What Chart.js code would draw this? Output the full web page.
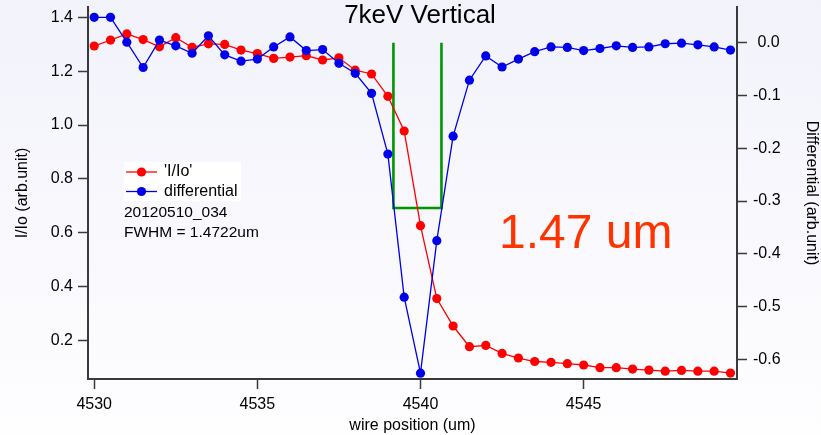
<!DOCTYPE html>
<html>
<head>
<meta charset="utf-8">
<title>7keV Vertical</title>
<script src="https://cdn.jsdelivr.net/npm/chart.js@4.4.1/dist/chart.umd.min.js"></script>
<style>
  html, body { margin: 0; padding: 0; background: #fff; }
  #myChart { display: block; }
</style>
</head>
<body>
<canvas id="myChart" width="821" height="435"></canvas>
<script>
// wire position (um), one sample every 0.5 um
const positions = [
  4530, 4530.5, 4531, 4531.5, 4532, 4532.5, 4533, 4533.5, 4534, 4534.5,
  4535, 4535.5, 4536, 4536.5, 4537, 4537.5, 4538, 4538.5, 4539, 4539.5,
  4540, 4540.5, 4541, 4541.5, 4542, 4542.5, 4543, 4543.5, 4544, 4544.5,
  4545, 4545.5, 4546, 4546.5, 4547, 4547.5, 4548, 4548.5, 4549, 4549.5
];
// normalised intensity I/Io
const ioValues = [
  1.294, 1.316, 1.339, 1.318, 1.291, 1.325, 1.289, 1.302, 1.300, 1.279,
  1.266, 1.248, 1.253, 1.258, 1.242, 1.250, 1.204, 1.190, 1.107, 0.978,
  0.626, 0.355, 0.253, 0.176, 0.181, 0.151, 0.134, 0.121, 0.118, 0.113,
  0.108, 0.098, 0.098, 0.093, 0.089, 0.085, 0.088, 0.085, 0.085, 0.078
];
// derivative of I/Io
const diffValues = [
  0.048, 0.048, 0.001, -0.047, 0.005, -0.006, -0.020, 0.013, -0.023, -0.035,
  -0.031, -0.008, 0.011, -0.015, -0.013, -0.039, -0.058, -0.096, -0.211, -0.482,
  -0.626, -0.375, -0.177, -0.071, -0.025, -0.046, -0.031, -0.017, -0.008, -0.009,
  -0.015, -0.011, -0.006, -0.009, -0.008, -0.002, -0.001, -0.004, -0.008, -0.014
];
// half maximum marker (FWHM = 1.4722 um)
const fwhmX = [4539.17, 4539.17, 4540.6422, 4540.6422];
const fwhmY = [0, -0.313, -0.313, 0];

const xTicks = [4530, 4535, 4540, 4545];
const fontFamily = '"Liberation Sans", Arial, sans-serif';

function toPoints(xs, ys) {
  return xs.map(function (x, i) { return { x: x, y: ys[i] }; });
}

const data = {
  datasets: [{
    label: 'differential',
    yAxisID: 'y1',
    data: toPoints(positions, diffValues),
    borderColor: 'rgb(0, 0, 235)',
    backgroundColor: 'rgb(0, 0, 235)',
    borderWidth: 1.3,
    pointRadius: 4.6,
    pointBorderWidth: 0,
    order: 0
  },
  {
    label: "'I/Io'",
    yAxisID: 'y',
    data: toPoints(positions, ioValues),
    borderColor: 'rgb(255, 0, 0)',
    backgroundColor: 'rgb(255, 0, 0)',
    borderWidth: 1.3,
    pointRadius: 4.6,
    pointBorderWidth: 0,
    order: 1
  },
  {
    label: 'fwhm',
    yAxisID: 'y1',
    data: toPoints(fwhmX, fwhmY),
    borderColor: 'rgb(0, 150, 0)',
    borderWidth: 2.6,
    pointRadius: 0,
    order: 2
  }]
};

// background wash behind everything
const backdrop = {
  id: 'backdrop',
  beforeDraw: function (chart) {
    const ctx = chart.ctx;
    const g = ctx.createLinearGradient(0, 0, 0, chart.height);
    g.addColorStop(0, 'rgb(242, 242, 251)');
    g.addColorStop(1, 'rgb(254, 254, 255)');
    ctx.save();
    ctx.fillStyle = g;
    ctx.fillRect(0, 0, chart.width, chart.height);
    ctx.restore();
  }
};

// title, legend box and notes drawn over the plot
const notes = {
  id: 'notes',
  afterDraw: function (chart) {
    const ctx = chart.ctx;
    ctx.save();
    ctx.fillStyle = '#000';
    ctx.font = '26px ' + fontFamily;
    ctx.textAlign = 'center';
    ctx.textBaseline = 'alphabetic';
    ctx.fillText('7keV Vertical', 420, 23);

    // legend
    ctx.fillStyle = '#fff';
    ctx.fillRect(124, 162, 117, 39);
    const entries = [data.datasets[1], data.datasets[0]];
    entries.forEach(function (ds, i) {
      const y = 172 + i * 19.5;
      ctx.strokeStyle = ds.borderColor;
      ctx.lineWidth = 1.3;
      ctx.beginPath();
      ctx.moveTo(126, y);
      ctx.lineTo(157, y);
      ctx.stroke();
      ctx.fillStyle = ds.backgroundColor;
      ctx.beginPath();
      ctx.arc(141.5, y, 4.6, 0, Math.PI * 2);
      ctx.fill();
      ctx.fillStyle = '#000';
      ctx.font = '16px ' + fontFamily;
      ctx.textAlign = 'left';
      ctx.textBaseline = 'middle';
      ctx.fillText(ds.label, 164, y);
    });

    ctx.font = '15.5px ' + fontFamily;
    ctx.fillText('20120510_034', 124, 213);
    ctx.fillText('FWHM = 1.4722um', 124, 233);

    ctx.fillStyle = 'rgb(255, 51, 0)';
    ctx.font = '48px ' + fontFamily;
    ctx.textBaseline = 'alphabetic';
    ctx.fillText('1.47 um', 499, 248);
    ctx.restore();
  }
};

// fixed axis box sizes, no extra room for overhanging labels
function fixBox(size) {
  return function (s) {
    if (s.isHorizontal()) s.height = size; else s.width = size;
    s.paddingTop = 0;
    s.paddingBottom = 0;
    s.paddingLeft = 0;
    s.paddingRight = 0;
  };
}

const axisColor = '#3a3a3a';
const tickFont = { family: fontFamily, size: 16 };
const titleFont = { family: fontFamily, size: 16 };

const config = {
  type: 'line',
  data: data,
  plugins: [backdrop, notes],
  options: {
    responsive: false,
    animation: false,
    devicePixelRatio: 1,
    layout: { padding: { top: 7, left: 0, right: 0, bottom: 0 } },
    elements: { line: { tension: 0 } },
    scales: {
      x: {
        type: 'linear',
        min: 4529.81,
        max: 4549.70,
        afterFit: fixBox(56),
        afterBuildTicks: function (s) {
          s.ticks = xTicks.map(function (v) { return { value: v }; });
        },
        ticks: {
          font: tickFont,
          color: '#000',
          padding: 6,
          maxRotation: 0,
          callback: function (v) { return String(v); }
        },
        grid: { drawOnChartArea: false, tickLength: 10, tickColor: axisColor, tickWidth: 1.5 },
        border: { color: axisColor, width: 2 },
        title: { display: true, text: 'wire position (um)', font: titleFont, color: '#000', padding: { top: 0, bottom: 0 } }
      },
      y: {
        type: 'linear',
        position: 'left',
        min: 0.056,
        max: 1.439,
        afterFit: fixBox(88),
        ticks: {
          stepSize: 0.2,
          includeBounds: false,
          font: tickFont,
          color: '#000',
          padding: 5,
          callback: function (v) { return v.toFixed(1); }
        },
        grid: { drawOnChartArea: false, tickLength: 10, tickColor: axisColor, tickWidth: 1.5 },
        border: { color: axisColor, width: 2 },
        title: { display: true, text: 'I/Io (arb.unit)', font: titleFont, color: '#000', padding: { top: 13, bottom: 0 } }
      },
      y1: {
        type: 'linear',
        position: 'right',
        min: -0.637,
        max: 0.0676,
        afterFit: fixBox(84),
        ticks: {
          stepSize: 0.1,
          includeBounds: false,
          font: tickFont,
          color: '#000',
          padding: 6,
          callback: function (v) { return (v < 0 ? '' : ' ') + v.toFixed(1); }
        },
        grid: { drawOnChartArea: false, tickLength: 10, tickColor: axisColor, tickWidth: 1.5 },
        border: { color: axisColor, width: 2 },
        title: { display: true, text: 'Differential (arb.unit)', font: titleFont, color: '#000', padding: { top: 0, bottom: 0 } }
      }
    },
    plugins: {
      legend: { display: false },
      tooltip: { enabled: false }
    }
  }
};

var myChart = new Chart(document.getElementById('myChart'), config);
</script>
</body>
</html>
